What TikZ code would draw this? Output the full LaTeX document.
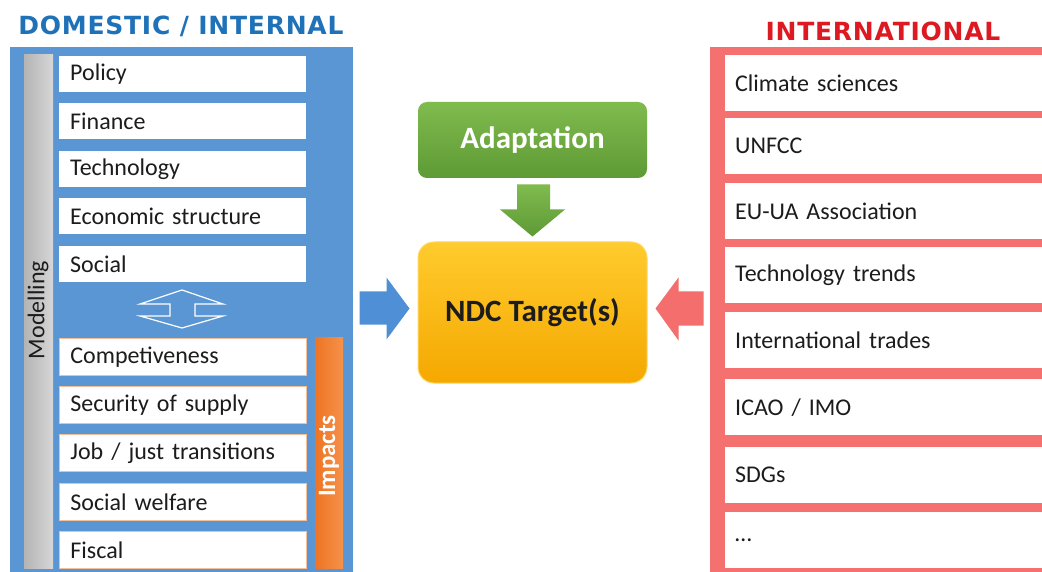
\documentclass[tikz,border=0pt]{standalone}
\usepackage{fontspec}
\setmainfont{Carlito}
\newfontfamily\headfont{DejaVu Sans}[LetterSpace=3]
\usetikzlibrary{calc}

\definecolor{panelblue}{HTML}{5A96D3}
\definecolor{headblue}{HTML}{1F71B8}
\definecolor{headred}{HTML}{DD1A22}
\definecolor{framered}{HTML}{F4716F}
\definecolor{barorangeA}{HTML}{EE7424}
\definecolor{barorangeB}{HTML}{F5924A}
\definecolor{bargreyA}{HTML}{B4B4B4}
\definecolor{bargreyB}{HTML}{D6D6D6}
\definecolor{impactedge}{HTML}{F3BE98}
\definecolor{greenA}{HTML}{80BB4E}
\definecolor{greenB}{HTML}{5E9A35}
\definecolor{amberA}{HTML}{FFCB2E}
\definecolor{amberB}{HTML}{F5A800}
\definecolor{amberedge}{HTML}{FFD763}
\definecolor{arrowblue}{HTML}{4F8FD6}
\definecolor{arrowred}{HTML}{F36E6C}
\definecolor{inktext}{HTML}{1C1C1C}

\tikzset{
  itemfont/.style={font=\fontsize{24}{28}\selectfont},
  itembox/.style={itemfont, fill=white, draw=none, anchor=north west,
    minimum height=36pt, inner xsep=11pt, inner ysep=0pt, text=inktext,
    align=left},
  leftitem/.style={itembox, text width=225pt},
  impactitem/.style={leftitem, draw=impactedge, line width=0.8pt},
  rightitem/.style={itembox, text width=297pt, inner xsep=10pt, minimum height=56pt},
  headline/.style={font=\headfont\bfseries\fontsize{25}{29}\selectfont, inner sep=0pt},
  centrebox/.style={minimum width=229pt, inner sep=0pt,
    font=\bfseries\fontsize{31}{36}\selectfont},
}

\begin{document}
\begin{tikzpicture}[x=1pt,y=-1pt]
\useasboundingbox (0,0) rectangle (1042,572);
\fill[white] (0,0) rectangle (1042,572);

% ---------- domestic side ----------
\node[headline, text=headblue] (domtitle) at (181,26) {DOMESTIC / INTERNAL};
\fill[panelblue] (10,47) rectangle (353,572);
\shade[left color=bargreyA, right color=bargreyB] (24,55) rectangle (53,568);
\node[itemfont, rotate=90, text=inktext, inner sep=0pt] (modelling) at (38,310) {Modelling};

\foreach \ty/\txt/\nm in {56/Policy/policy, 103/Finance/finance,
    151/Technology/technology, 198/Economic structure/economic, 246/Social/social}
  \node[leftitem] (\nm) at (59,\ty) {\txt};

% two-way exchange between the modelling blocks and the impacts
\draw[white, line width=1.2pt, line join=miter]
  (182,290) -- (223,304) -- (195,304) -- (195,316) -- (223,316) -- (182,328)
  -- (140,316) -- (170,316) -- (170,304) -- (140,304) -- cycle;

\foreach \ty/\txt/\nm in {338/Competiveness/compet, 386/Security of supply/security,
    434/{Job / just transitions}/jobs, 483/Social welfare/welfare, 531/Fiscal/fiscal}
  \node[impactitem, minimum height=37pt] (\nm) at (59,\ty) {\txt};

\shade[left color=barorangeA, right color=barorangeB] (315,337) rectangle (343,568);
\node[rotate=90, text=white, inner sep=0pt, font=\bfseries\fontsize{25}{28}\selectfont]
  (impacts) at (329,456) {Impacts};

% ---------- international side ----------
\node[headline, text=headred] (inttitle) at (883,31) {INTERNATIONAL};
\fill[framered] (710,47) rectangle (1042,572);
\foreach \ty/\txt/\nm in {55/Climate sciences/climate, 118/UNFCC/unfcc,
    183/EU-UA Association/euua, 247/Technology trends/techtrends,
    312/International trades/trades, 379/{ICAO / IMO}/icao, 447/SDGs/sdgs}
  \node[rightitem] (\nm) at (725,\ty) {\txt};
\node[rightitem] (more) at (725,512) {\ldots};

% ---------- centre ----------
\node[centrebox, minimum height=76pt, rounded corners=9pt,
      top color=greenA, bottom color=greenB, text=white]
  (adapt) at (532.5,140) {Adaptation};
\node[centrebox, minimum height=141pt, rounded corners=16pt,
      top color=amberA, bottom color=amberB, draw=amberedge, line width=1pt, text=inktext]
  (ndc) at (532.5,312.5) {NDC Target(s)};

% block arrows feeding the target
\shade[top color=greenA, bottom color=greenB]
  ($(ndc.north)+(0,-5)$) -- ++(-32.5,-27) -- ++(17,0) -- ++(0,-25)
  -- ++(33,0) -- ++(0,25) -- ++(15,0) -- cycle;
\fill[arrowblue]
  ($(ndc.west)+(-8,-4)$) -- ++(-23,-31) -- ++(0,14) -- ++(-27,0)
  -- ++(0,33) -- ++(27,0) -- ++(0,15) -- cycle;
\fill[arrowred]
  ($(ndc.east)+(8,-4)$) -- ++(23,-31) -- ++(0,14) -- ++(25,0)
  -- ++(0,34) -- ++(-25,0) -- ++(0,15) -- cycle;
\end{tikzpicture}
\end{document}
